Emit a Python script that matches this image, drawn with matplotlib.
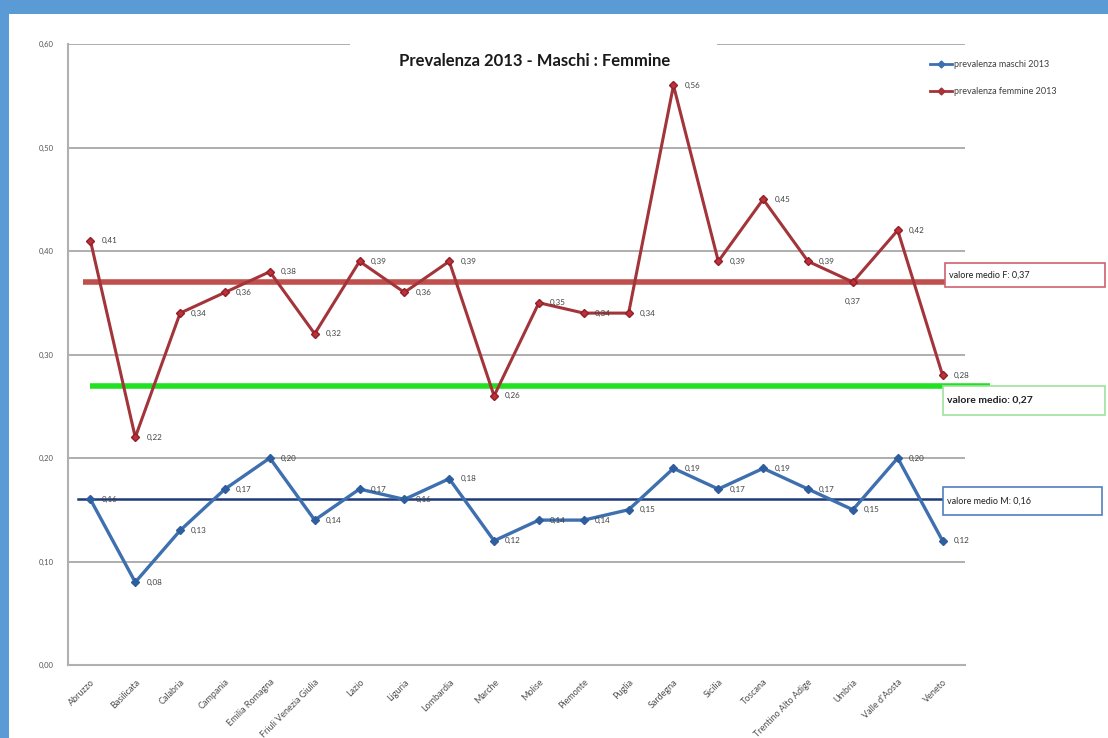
import matplotlib
matplotlib.use("Agg")
import matplotlib.pyplot as plt
from matplotlib.patches import Rectangle
from matplotlib.lines import Line2D

# Regioni italiane e prevalenza 2013
regioni = ["Abruzzo", "Basilicata", "Calabria", "Campania", "Emilia Romagna",
           "Friuli Venezia Giulia", "Lazio", "Liguria", "Lombardia", "Marche",
           "Molise", "Piemonte", "Puglia", "Sardegna", "Sicilia", "Toscana",
           "Trentino Alto Adige", "Umbria", "Valle d'Aosta", "Veneto"]
femmine = [0.41, 0.22, 0.34, 0.36, 0.38, 0.32, 0.39, 0.36, 0.39, 0.26,
           0.35, 0.34, 0.34, 0.56, 0.39, 0.45, 0.39, 0.37, 0.42, 0.28]
maschi = [0.16, 0.08, 0.13, 0.17, 0.20, 0.14, 0.17, 0.16, 0.18, 0.12,
          0.14, 0.14, 0.15, 0.19, 0.17, 0.19, 0.17, 0.15, 0.20, 0.12]
media_f = 0.37
media_m = 0.16
media_tot = 0.27
yticks = [0.0, 0.1, 0.2, 0.3, 0.4, 0.5, 0.6]

plt.rcParams["font.family"] = ["Lato", "DejaVu Sans"]

W, H = 1108, 738
fig = plt.figure(figsize=(W / 100, H / 100), dpi=100)
fig.patch.set_facecolor("white")


def fx(px):
    return px / W


def fy(py):
    return 1 - py / H


# blue frame on the left and top
fig.patches.append(Rectangle((0, 0), fx(9), 1, transform=fig.transFigure,
                             facecolor="#5B9BD5", edgecolor="none", zorder=5))
fig.patches.append(Rectangle((0, fy(14)), 1, 1 - fy(14), transform=fig.transFigure,
                             facecolor="#5B9BD5", edgecolor="none", zorder=5))

ax = fig.add_axes([fx(68), fy(665), fx(965) - fx(68), fy(44) - fy(665)])
x = list(range(len(regioni)))
ax.set_xlim(-0.5, len(regioni) - 0.5)
ax.set_ylim(0, 0.6)

for sp in ["top", "right"]:
    ax.spines[sp].set_visible(False)
ax.spines["left"].set_color("#B0B0B0")
ax.spines["left"].set_linewidth(1.5)
ax.spines["bottom"].set_color("#B0B0B0")
ax.spines["bottom"].set_linewidth(1.5)

ax.set_yticks(yticks)
ax.set_yticklabels([f"{v:.2f}".replace(".", ",") for v in yticks],
                   fontsize=5.5, color="#555555")
ax.tick_params(axis="y", length=0, pad=10)
ax.set_xticks(x)
ax.set_xticklabels(regioni, rotation=45, ha="right", rotation_mode="anchor",
                   fontsize=6.5, color="#505050")
ax.tick_params(axis="x", length=0, pad=9)
for v in yticks[1:]:
    ax.axhline(v, color="#A8A8A8", lw=1.3, zorder=1)

# mean lines
ax.plot([-0.17, 19.05], [media_f, media_f], color="#C0504D", lw=4, zorder=2,
        solid_capstyle="butt")
ax.plot([0.0, 20.06], [media_tot, media_tot], color="#22E022", lw=4, zorder=2,
        clip_on=False, solid_capstyle="butt")
ax.plot([-0.28, 19.05], [media_m, media_m], color="#1F3A7A", lw=1.8, zorder=2)

# series
col_m = "#3E6FAF"
col_f = "#A3343A"
ax.plot(x, maschi, color=col_m, lw=2.4, marker="D", ms=4.5,
        markerfacecolor="#2F5E9E", markeredgecolor="#2F5E9E", zorder=4)
ax.plot(x, femmine, color=col_f, lw=2.2, marker="D", ms=4.5,
        markerfacecolor="#C0303A", markeredgecolor="#902028", zorder=4)


def lab(v):
    return f"{v:.2f}".replace(".", ",")


for xi, v in zip(x, femmine):
    dy = -14 if regioni[xi] == "Umbria" else 0
    dx = 0 if regioni[xi] == "Umbria" else 8
    ax.annotate(lab(v), (xi, v), xytext=(dx, dy), textcoords="offset points",
                fontsize=5.8, color="#404040", va="center",
                ha="center" if dx == 0 else "left", zorder=6)
for xi, v in zip(x, maschi):
    ax.annotate(lab(v), (xi, v), xytext=(8, 0), textcoords="offset points",
                fontsize=5.8, color="#404040", va="center", ha="left", zorder=6)

# title with white background over the top gridline
fig.patches.append(Rectangle((fx(350), fy(78)), fx(717) - fx(350), fy(38) - fy(78),
                             transform=fig.transFigure, facecolor="white",
                             edgecolor="none", zorder=3))
fig.text(fx(535), fy(61), "Prevalenza 2013 - Maschi : Femmine", ha="center",
         va="center", fontsize=12, fontweight="bold", color="#1a1a1a", zorder=6)

# legend
handles = [Line2D([], [], color=col_m, lw=2, marker="D", ms=3.5),
           Line2D([], [], color=col_f, lw=2, marker="D", ms=3.5)]
fig.legend(handles, ["prevalenza maschi 2013", "prevalenza femmine 2013"],
           loc="upper left", bbox_to_anchor=(fx(922), fy(52)), frameon=False,
           fontsize=6.5, handlelength=2.4, handletextpad=0.3, labelspacing=2.0,
           labelcolor="#404040")

# mean value boxes


def box(x0, y0, x1, y1, edge, text, bold=False, fs=6.5):
    fig.patches.append(Rectangle((fx(x0), fy(y1)), fx(x1) - fx(x0), fy(y0) - fy(y1),
                                 transform=fig.transFigure, facecolor="white",
                                 edgecolor=edge, lw=1.2, zorder=6))
    fig.text(fx(x0 + 4), fy((y0 + y1) / 2), text, ha="left", va="center",
             fontsize=fs, fontweight="bold" if bold else "normal",
             color="#202020", zorder=7)


box(945, 263, 1105, 287, "#D06070", "valore medio F: " + lab(media_f))
box(943, 386, 1105, 415, "#A0E0A0", "valore medio: " + lab(media_tot), bold=True, fs=7.5)
box(943, 487, 1102, 515, "#5080C0", "valore medio M: " + lab(media_m))

fig.savefig("out.png", dpi=100)
